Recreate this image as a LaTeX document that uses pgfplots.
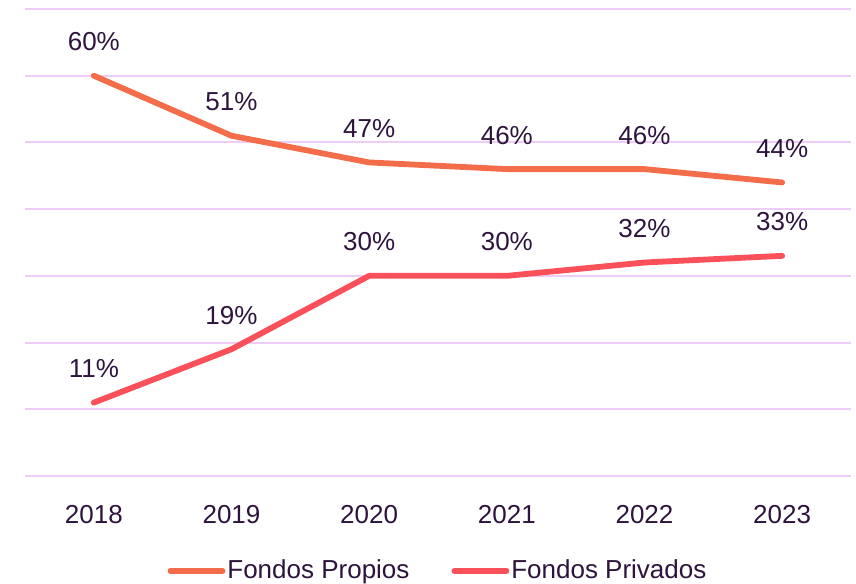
\documentclass[border=0pt]{standalone}
\usepackage{pgfplots}
\pgfplotsset{compat=1.18}
\usepackage{fontspec}
\setmainfont{Liberation Sans}

\definecolor{propios}{HTML}{F46D4B}
\definecolor{privados}{HTML}{FA505A}
\definecolor{gridc}{HTML}{EFCCF5}
\definecolor{txt}{HTML}{2D143C}

\begin{document}
\begin{tikzpicture}
    \begin{axis}[
        scale only axis,
        width=413pt,
        height=233.5pt,
        xmin=-0.5, xmax=5.5,
        ymin=0, ymax=70,
        axis line style={draw=none},
        major tick length=0pt,
        xtick=data,
        xticklabels={2018,2019,2020,2021,2022,2023},
        ytick={0,10,...,70},
        yticklabels={},
        ymajorgrids,
        grid style={gridc, line width=1pt},
        font=\fontsize{13}{15}\selectfont,
        color=txt,
        xticklabel style={yshift=-11pt, text=txt},
        /pgf/number format/assume math mode=true,
        nodes near coords={\pgfmathprintnumber{\pgfplotspointmeta}\%},
        every node near coord/.append style={anchor=center, yshift=17pt, text=txt, font=\fontsize{13}{15}\selectfont},
        legend columns=2,
        legend style={
            draw=none,
            at={(0.5,-0.203)},
            anchor=center,
            font=\fontsize{13}{15}\selectfont,
            text=txt,
            nodes={inner xsep=1pt},
            /tikz/every even column/.append style={column sep=20pt},
        },
        legend image code/.code={
            \draw[#1, line width=2.9pt, line cap=round] (0pt,0pt) -- (26pt,0pt);
        },
        clip=false
    ]
        \addplot[propios, line width=2.9pt, line cap=round, line join=round] coordinates {
            (0,60) (1,51) (2,47) (3,46) (4,46) (5,44)
        };
        \addlegendentry{Fondos Propios}

        \addplot[privados, line width=2.9pt, line cap=round, line join=round] coordinates {
            (0,11) (1,19) (2,30) (3,30) (4,32) (5,33)
        };
        \addlegendentry{Fondos Privados}
    \end{axis}
    \pgfresetboundingbox
    \path ([xshift=-12.5pt,yshift=-54pt]current axis.south west)
        rectangle ([xshift=2.5pt,yshift=4.5pt]current axis.north east);
\end{tikzpicture}
\end{document}
